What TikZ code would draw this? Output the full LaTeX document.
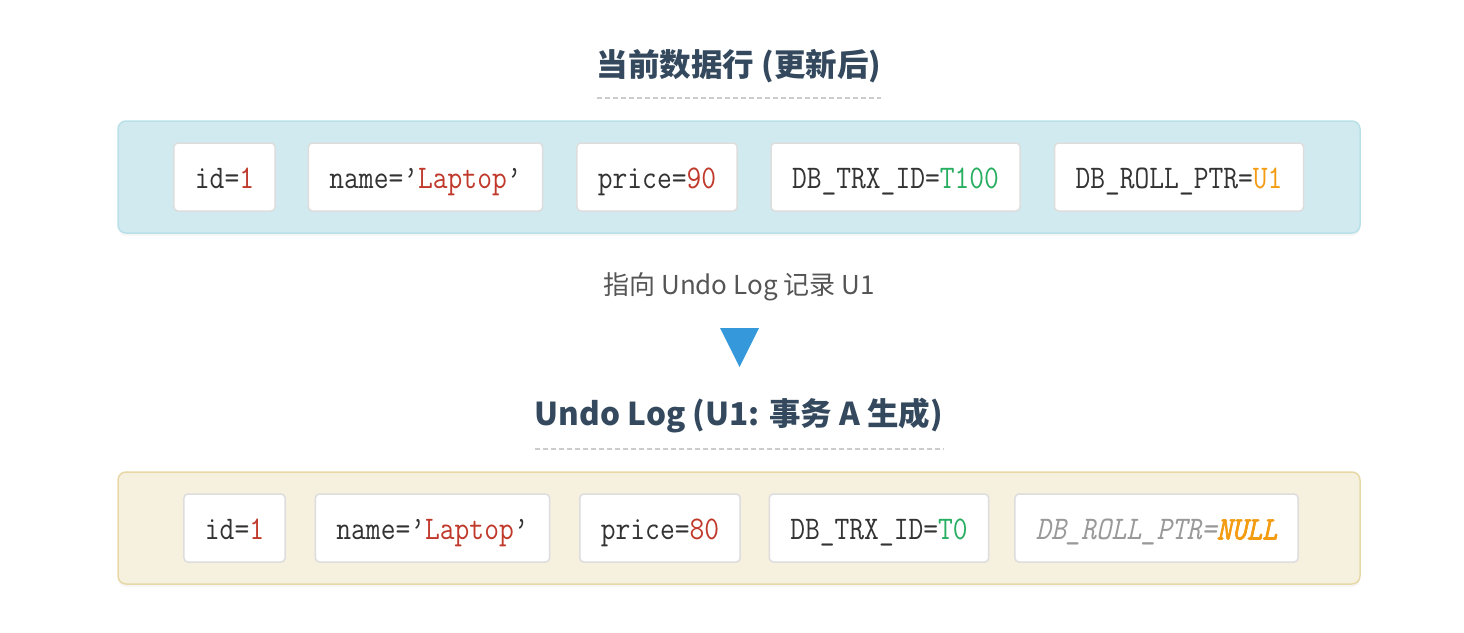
\documentclass[tikz,border=0pt]{standalone}
\usepackage{fontspec}
\newfontfamily\cjkfont{Noto Sans CJK SC}
\newfontfamily\cellfont[FakeStretch=0.87, Ligatures=TeX]{Latin Modern Mono}
\newfontfamily\cellnullfont[FakeStretch=0.87, FakeBold=2]{lmmono10-italic.otf}
\usetikzlibrary{positioning,shadows}

\definecolor{titleBlue}{HTML}{34495E}
\definecolor{noteGray}{HTML}{555555}
\definecolor{keyText}{HTML}{333333}
\definecolor{nullGray}{HTML}{999999}
\definecolor{rowFill}{HTML}{D1EAF0}
\definecolor{rowLine}{HTML}{B9E0E8}
\definecolor{undoFill}{HTML}{F6F0DF}
\definecolor{undoLine}{HTML}{E8D8A6}
\definecolor{cellLine}{HTML}{DDDDDD}
\definecolor{valRed}{HTML}{C0392B}
\definecolor{valGreen}{HTML}{27AE60}
\definecolor{valOrange}{HTML}{F39C12}
\definecolor{ptrBlue}{HTML}{3498DB}

\begin{document}
\begin{tikzpicture}[x=1pt, y=-1pt,
    container/.style={line width=1.5pt, rounded corners=8pt, minimum width=1242pt, minimum height=112pt, inner sep=0pt,
      drop shadow={opacity=0.07, shadow xshift=0pt, shadow yshift=-3pt}},
    title/.style={font=\cjkfont\bfseries\fontsize{31.5}{36}\selectfont, text=titleBlue, inner sep=0pt},
    dashline/.style={draw=black!20, line width=1.5pt, dash pattern=on 5pt off 3pt},
    note/.style={font=\cjkfont\fontsize{26}{30}\selectfont, text=noteGray, inner sep=0pt},
    cell/.style={draw=cellLine, line width=1.5pt, fill=white, rounded corners=4pt, minimum height=68pt, inner xsep=21pt,
      text height=27pt, text depth=4pt, font=\cellfont\fontsize{33}{38}\selectfont, text=keyText}
  ]
  \useasboundingbox (0,0) rectangle (1464,632);

  % current row
  \node[title] (rowTitle) at (739,66) {当前数据行 (更新后)};
  \draw[dashline] (rowTitle.west |- 0,98) -- (rowTitle.east |- 0,98);
  \node[container, draw=rowLine, fill=rowFill] (row) at (739,177) {};
  \node[cell] (rowId) at (224.5,177) {id=\textcolor{valRed}{1}};
  \node[cell] (rowName) at (425.5,177) {name='\textcolor{valRed}{Laptop}'};
  \node[cell] (rowPrice) at (657,177) {price=\textcolor{valRed}{90}};
  \node[cell] (rowTrx) at (895.5,177) {DB\_TRX\_ID=\textcolor{valGreen}{T100}};
  \node[cell] (rowRoll) at (1179,177) {DB\_ROLL\_PTR=\textcolor{valOrange}{U1}};

  % pointer
  \node[note] (ptrNote) at (739,287) {指向 Undo Log 记录 U1};
  \fill[ptrBlue] (720,328) -- (759,328) -- (739.5,367) -- cycle;

  % undo log
  \node[title] (undoTitle) at (739,416) {Undo Log (U1: 事务 A 生成)};
  \draw[dashline] (undoTitle.west |- 0,449) -- (undoTitle.east |- 0,449);
  \node[container, draw=undoLine, fill=undoFill] (undo) at (739,528) {};
  \node[cell] (undoId) at (234.5,528) {id=\textcolor{valRed}{1}};
  \node[cell] (undoName) at (432.5,528) {name='\textcolor{valRed}{Laptop}'};
  \node[cell] (undoPrice) at (660,528) {price=\textcolor{valRed}{80}};
  \node[cell] (undoTrx) at (879,528) {DB\_TRX\_ID=\textcolor{valGreen}{T0}};
  \node[cell, text=nullGray] (undoRoll) at (1156.5,528) {\itshape DB\_ROLL\_PTR=\textcolor{valOrange}{\cellnullfont NULL}};

\end{tikzpicture}
\end{document}
